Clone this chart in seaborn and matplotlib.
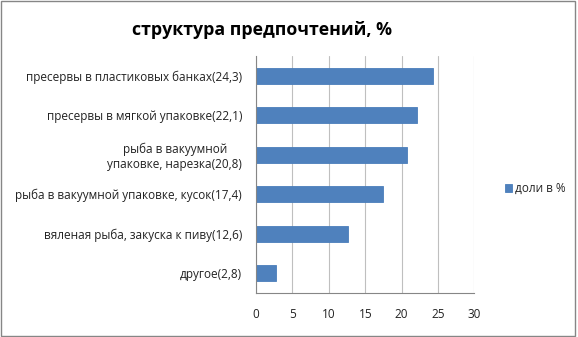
import matplotlib
matplotlib.use("Agg")
import matplotlib.pyplot as plt
import seaborn as sns
import pandas as pd
import numpy as np
from matplotlib.patches import Rectangle

categories = [
    "пресервы в пластиковых банках(24,3)",
    "пресервы в мягкой упаковке(22,1)",
    "рыба в вакуумной\nупаковке, нарезка(20,8)",
    "рыба в вакуумной упаковке, кусок(17,4)",
    "вяленая рыба, закуска к пиву(12,6)",
    "другое(2,8)",
]
values = [24.3, 22.1, 20.8, 17.4, 12.6, 2.8]
series_name = "доли в %"
xticks = [0, 5, 10, 15, 20, 25, 30]

df = pd.DataFrame({"cat": categories, "val": values, "series": series_name})

sns.set_theme(style="white")
plt.rcParams["font.family"] = ["Open Sans", "DejaVu Sans"]

fig = plt.figure(figsize=(5.78, 3.37), dpi=100)
ax = fig.add_axes([0.4429, 0.1306, 0.378, 0.703])

sns.barplot(data=df, x="val", y="cat", hue="series", palette=["#4F81BD"],
            saturation=1, width=0.4, ax=ax, orient="h",
            edgecolor="#4A7EBB", linewidth=0.6)

ax.set_xlim(0, 30)
ax.set_ylim(5.5, -0.5)
ax.set_xticks(xticks)
ax.set_xticklabels([str(t) for t in xticks], fontsize=8.5, color="#222222")
ax.set_xlabel("")
ax.set_ylabel("")
ax.tick_params(axis="y", which="major", length=0, pad=10, labelsize=8.5, labelcolor="#222222")
ax.tick_params(axis="x", which="major", length=4, width=0.8, color="#868686", pad=7, direction="out")
ax.set_yticks(np.arange(-0.5, 6, 1.0), minor=True)
ax.tick_params(axis="y", which="minor", length=4, width=0.8, color="#868686", direction="out")
for lab in ax.get_yticklabels():
    lab.set_horizontalalignment("right")
    lab.set_multialignment("center")

ax.grid(axis="x", color="#BFBFBF", linewidth=0.8)
ax.set_axisbelow(True)
for s in ["top", "right"]:
    ax.spines[s].set_visible(False)
for s in ["left", "bottom"]:
    ax.spines[s].set_color("#868686")
    ax.spines[s].set_linewidth(0.8)

leg = ax.legend(loc="center left", bbox_to_anchor=(1.09, 0.44), frameon=False,
                fontsize=8.5, handlelength=0.6, handleheight=0.6, handletextpad=0.3)

fig.text(0.453, 0.912, "структура предпочтений, %", ha="center", va="center",
         fontsize=12.8, fontweight="bold", color="black")

fig.patches.append(Rectangle((0.002, 0.004), 0.993, 0.993, transform=fig.transFigure,
                             fill=False, edgecolor="#868686", linewidth=1.0))

fig.savefig("out.png", dpi=100)
